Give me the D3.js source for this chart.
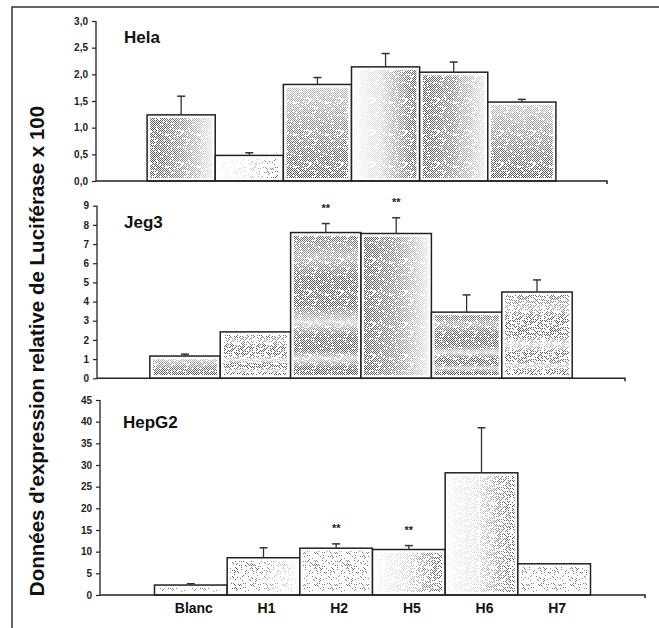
<!DOCTYPE html>
<html>
<head>
<meta charset="utf-8">
<script src="https://cdn.jsdelivr.net/npm/d3@7"></script>
<style>
  html, body { margin: 0; padding: 0; background: #fff; }
  svg { display: block; font-family: "Liberation Sans", Arial, sans-serif; }
</style>
</head>
<body>
<svg id="chart" width="659" height="628"></svg>
<script>
// Constructs tested
const categories = ["Blanc", "H1", "H2", "H5", "H6", "H7"];

// Hela
const helaValues = [1.24, 0.48, 1.81, 2.14, 2.04, 1.48];
const helaErrors = [0.35, 0.05, 0.13, 0.25, 0.19, 0.05];
const helaTicks  = [0, 0.5, 1, 1.5, 2, 2.5, 3];

// Jeg3
const jeg3Values = [1.16, 2.42, 7.6, 7.55, 3.45, 4.5];
const jeg3Errors = [0.1, 0, 0.47, 0.82, 0.9, 0.63];
const jeg3Ticks  = [0, 1, 2, 3, 4, 5, 6, 7, 8, 9];
const jeg3Signif = ["", "", "**", "**", "", ""];

// HepG2
const hepg2Values = [2.3, 8.6, 10.8, 10.5, 28.2, 7.2];
const hepg2Errors = [0.3, 2.3, 1.0, 0.9, 10.4, 0];
const hepg2Ticks  = [0, 5, 10, 15, 20, 25, 30, 35, 40, 45];
const hepg2Signif = ["", "", "**", "**", "", ""];

const yTitle = "Données d'expression relative de Luciférase x 100";

const svg = d3.select("#chart");
const defs = svg.append("defs");

// --- stipple textures -----------------------------------------------------
// Halftone-like grain: checkerboard cells kept or dropped by a fixed hash,
// so the texture is irregular but identical on every render.
function cellHash(cx, cy, salt) {
  let h = (cx * 374761393 + cy * 668265263 + salt * 2147483647) | 0;
  h = Math.imul(h ^ (h >>> 13), 1274126177);
  h ^= h >>> 16;
  return ((h >>> 0) % 1000) / 1000;
}
function stipple(id, keep, color, salt) {
  const size = 32;
  const p = defs.append("pattern")
    .attr("id", id).attr("patternUnits", "userSpaceOnUse")
    .attr("width", size).attr("height", size);
  p.append("rect").attr("width", size).attr("height", size).attr("fill", "#fff");
  const cells = [];
  for (let cy = 0; cy < size; cy++) {
    for (let cx = (cy % 2); cx < size; cx += 2) {
      if (cellHash(cx, cy, salt) < keep) cells.push([cx, cy]);
    }
  }
  p.selectAll("rect.dot").data(cells).join("rect").attr("class", "dot")
    .attr("x", d => d[0]).attr("y", d => d[1])
    .attr("width", 1).attr("height", 1).attr("fill", color);
}
stipple("dense", 0.85, "#555", 1);
stipple("medium", 0.55, "#5a5a5a", 2);
stipple("sparse", 0.22, "#606060", 3);

// fade masks so the stipple thins out across the bar
function fadeMask(id, x2, y2, stops) {
  const g = defs.append("linearGradient").attr("id", id + "-g")
    .attr("x1", 0).attr("y1", 0).attr("x2", x2).attr("y2", y2);
  stops.forEach(([o, v]) => g.append("stop").attr("offset", o)
    .attr("stop-color", d3.rgb(v * 255, v * 255, v * 255)));
  defs.append("mask").attr("id", id)
    .attr("maskContentUnits", "objectBoundingBox")
    .append("rect").attr("width", 1).attr("height", 1).attr("fill", `url(#${id}-g)`);
}
fadeMask("m-full", 1, 0, [[0, 0.8], [1, 0.8]]);
fadeMask("m-left", 1, 0, [[0, 1], [0.5, 0.7], [1, 0.15]]);
fadeMask("m-right", 1, 0, [[0, 0.05], [0.45, 0.25], [1, 1]]);
fadeMask("m-bottom", 0, 1, [[0, 0.4], [0.6, 0.8], [1, 1]]);
fadeMask("m-bands", 0, 1, [[0, 0.9], [0.15, 0.55], [0.3, 0.95], [0.5, 0.95],
  [0.62, 0.3], [0.72, 0.95], [0.82, 0.95], [0.88, 0.3], [0.95, 1], [1, 1]]);

// --- panel layout ---------------------------------------------------------
const panels = [
  { title: "Hela", values: helaValues, errors: helaErrors, ticks: helaTicks,
    signif: null, max: 3, fmt: d3.format(".1f"), comma: true,
    x0: 96, x1: 607, yTop: 21, yBase: 181, titleX: 124, titleY: 43,
    fills: [["dense", "m-left"], ["sparse", "m-right"], ["dense", "m-bottom"],
            ["dense", "m-right"], ["dense", "m-left"], ["dense", "m-bottom"]] },
  { title: "Jeg3", values: jeg3Values, errors: jeg3Errors, ticks: jeg3Ticks,
    signif: jeg3Signif, max: 9, fmt: d3.format("d"), comma: false,
    x0: 97, x1: 625, yTop: 205.7, yBase: 378.3, titleX: 124, titleY: 228,
    fills: [["dense", "m-bottom"], ["medium", "m-bands"], ["dense", "m-bands"],
            ["dense", "m-left"], ["dense", "m-bands"], ["medium", "m-bands"]] },
  { title: "HepG2", values: hepg2Values, errors: hepg2Errors, ticks: hepg2Ticks,
    signif: hepg2Signif, max: 45, fmt: d3.format("d"), comma: false,
    x0: 100, x1: 645, yTop: 400, yBase: 595, titleX: 123, titleY: 428,
    fills: [["sparse", "m-full"], ["sparse", "m-left"], ["sparse", "m-full"],
            ["medium", "m-right"], ["medium", "m-right"], ["sparse", "m-full"]] }
];

// outer frame (top and left edges)
svg.append("path").attr("d", "M12,628V7H659")
  .attr("fill", "none").attr("stroke", "#333").attr("stroke-width", 1.5);

panels.forEach((p, pi) => {
  const x = d3.scaleBand().domain(categories).range([p.x0, p.x1])
    .paddingInner(0).paddingOuter(0.75);
  const y = d3.scaleLinear().domain([0, p.max]).range([p.yBase, p.yTop]);
  const g = svg.append("g");

  // bars
  const bars = g.selectAll("g.bar").data(categories).join("g").attr("class", "bar");
  bars.append("rect")
    .attr("x", d => x(d)).attr("width", x.bandwidth())
    .attr("y", (d, i) => y(p.values[i])).attr("height", (d, i) => y(0) - y(p.values[i]))
    .attr("fill", "#fff");
  bars.append("rect")
    .attr("x", d => x(d) + 3).attr("width", x.bandwidth() - 6)
    .attr("y", (d, i) => y(p.values[i]) + 3)
    .attr("height", (d, i) => Math.max(0, y(0) - y(p.values[i]) - 6))
    .attr("fill", (d, i) => `url(#${p.fills[i][0]})`)
    .attr("mask", (d, i) => `url(#${p.fills[i][1]})`);
  bars.append("rect")
    .attr("x", d => x(d)).attr("width", x.bandwidth())
    .attr("y", (d, i) => y(p.values[i])).attr("height", (d, i) => y(0) - y(p.values[i]))
    .attr("fill", "none").attr("stroke", "#222").attr("stroke-width", 1.5);

  // error bars (upper whisker only)
  categories.forEach((c, i) => {
    if (!p.errors[i]) return;
    const cx = x(c) + x.bandwidth() / 2;
    const top = y(p.values[i] + p.errors[i]);
    g.append("line").attr("x1", cx).attr("x2", cx)
      .attr("y1", y(p.values[i])).attr("y2", top)
      .attr("stroke", "#333").attr("stroke-width", 1.3);
    g.append("line").attr("x1", cx - 4).attr("x2", cx + 4)
      .attr("y1", top).attr("y2", top)
      .attr("stroke", "#333").attr("stroke-width", 1.5);
  });

  // significance marks
  if (p.signif) {
    categories.forEach((c, i) => {
      if (!p.signif[i]) return;
      g.append("text")
        .attr("x", x(c) + x.bandwidth() / 2)
        .attr("y", y(p.values[i] + p.errors[i]) - 12)
        .attr("text-anchor", "middle")
        .attr("font-size", 11).attr("font-weight", "bold").attr("fill", "#222")
        .text(p.signif[i]);
    });
  }

  // y axis
  const yAxis = d3.axisLeft(y).tickValues(p.ticks).tickSize(4).tickPadding(4)
    .tickFormat(d => p.comma ? p.fmt(d).replace(".", ",") : p.fmt(d));
  const ya = g.append("g").attr("transform", `translate(${p.x0},0)`).call(yAxis);
  ya.select(".domain").attr("stroke", "#222").attr("stroke-width", 1.3)
    .attr("d", `M0,${p.yTop}V${p.yBase}`);
  ya.selectAll(".tick line").attr("stroke", "#222").attr("stroke-width", 1.2);
  ya.selectAll(".tick text").attr("font-size", 10).attr("font-weight", "bold")
    .attr("fill", "#222").attr("font-family", "Liberation Sans, Arial, sans-serif");

  // x axis baseline with end tick
  g.append("path")
    .attr("d", `M${p.x0},${p.yBase}H${p.x1}v3`)
    .attr("fill", "none").attr("stroke", "#222").attr("stroke-width", 1.5);

  // panel title
  g.append("text").attr("x", p.titleX).attr("y", p.titleY)
    .attr("font-size", 17).attr("font-weight", "bold").attr("fill", "#111")
    .text(p.title);

  // category labels under the last panel
  if (pi === panels.length - 1) {
    g.selectAll("text.cat").data(categories).join("text").attr("class", "cat")
      .attr("x", d => x(d) + x.bandwidth() / 2 + 3)
      .attr("y", 613)
      .attr("text-anchor", "middle")
      .attr("font-size", 14).attr("font-weight", "bold").attr("fill", "#111")
      .text(d => d);
  }
});

// shared y-axis title
svg.append("text")
  .attr("transform", "translate(44,351) rotate(-90)")
  .attr("text-anchor", "middle")
  .attr("font-size", 20.5).attr("font-weight", "bold").attr("fill", "#111")
  .text(yTitle);
</script>
</body>
</html>
